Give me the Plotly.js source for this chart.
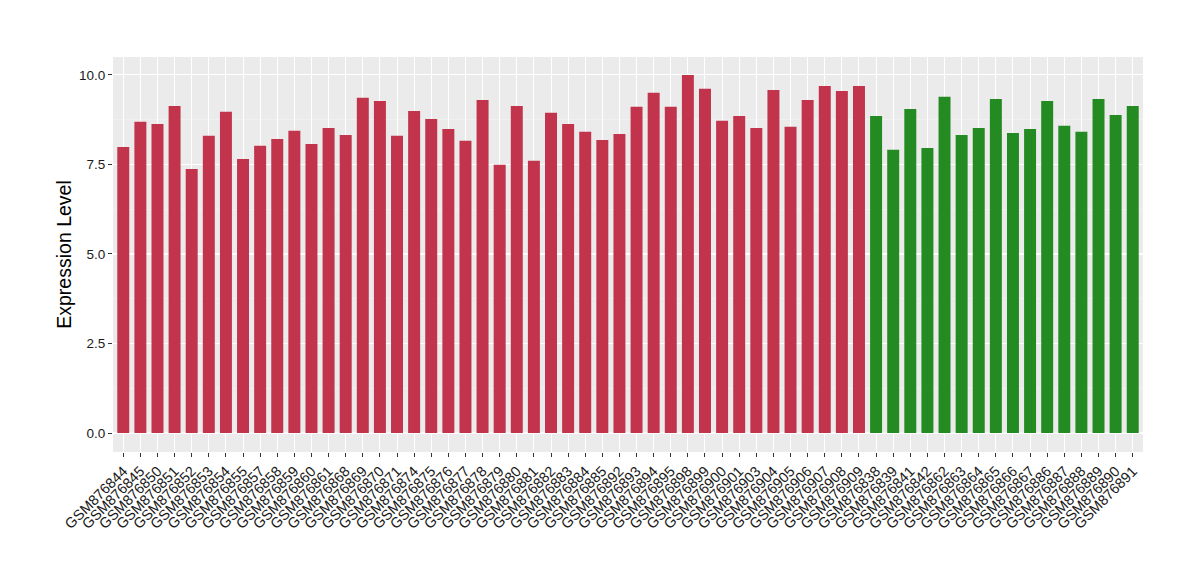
<!DOCTYPE html>
<html>
<head>
<meta charset="utf-8">
<script src="https://cdn.plot.ly/plotly-3.0.1.min.js"></script>
<style>html,body{margin:0;padding:0;background:#fff;}#chart{width:1200px;height:580px;}</style>
</head>
<body>
<div id="chart"></div>
<script>
const redSamples = ["GSM876844","GSM876845","GSM876850","GSM876851","GSM876852","GSM876853","GSM876854","GSM876855","GSM876857","GSM876858",
"GSM876859","GSM876860","GSM876861","GSM876868","GSM876869","GSM876870","GSM876871","GSM876874","GSM876875","GSM876876",
"GSM876877","GSM876878","GSM876879","GSM876880","GSM876881","GSM876882","GSM876883","GSM876884","GSM876885","GSM876892",
"GSM876893","GSM876894","GSM876895","GSM876898","GSM876899","GSM876900","GSM876901","GSM876903","GSM876904","GSM876905",
"GSM876906","GSM876907","GSM876908","GSM876909"];
const redValues = [7.99,8.69,8.63,9.13,7.37,8.30,8.97,7.65,8.02,8.21,
8.44,8.07,8.52,8.32,9.36,9.27,8.30,8.99,8.77,8.49,
8.16,9.30,7.49,9.13,7.60,8.94,8.63,8.41,8.18,8.35,
9.11,9.50,9.11,10.0,9.61,8.72,8.85,8.52,9.58,8.55,
9.30,9.69,9.55,9.69];
const greenSamples = ["GSM876838","GSM876839","GSM876841","GSM876842","GSM876862","GSM876863","GSM876864","GSM876865","GSM876866","GSM876867",
"GSM876886","GSM876887","GSM876888","GSM876889","GSM876890","GSM876891"];
const greenValues = [8.85,7.91,9.05,7.96,9.39,8.32,8.52,9.33,8.38,8.49,
9.27,8.58,8.41,9.33,8.88,9.13];
const yTicks = [0,2.5,5,7.5,10];
const yTickLabels = ["0.0","2.5","5.0","7.5","10.0"];

const allSamples = redSamples.concat(greenSamples);
const traces = [
  {type:'bar', x:redSamples, y:redValues, marker:{color:'#C1344B'}, width:0.7, hoverinfo:'x+y'},
  {type:'bar', x:greenSamples, y:greenValues, marker:{color:'#238B22'}, width:0.7, hoverinfo:'x+y'}
];
const layout = {
  width:1200, height:580,
  margin:{l:113, r:57, t:57, b:128},
  paper_bgcolor:'#ffffff', plot_bgcolor:'#EBEBEB',
  showlegend:false,
  barmode:'overlay',
  font:{family:'Liberation Sans, Arial, sans-serif', color:'#1a1a1a'},
  xaxis:{
    type:'category', categoryorder:'array', categoryarray:allSamples,
    range:[-0.6, allSamples.length-0.4],
    tickangle:-45, tickfont:{size:14.5, color:'#1a1a1a'},
    showgrid:true, gridcolor:'#ffffff', gridwidth:1,
    ticks:'outside', ticklen:4, tickcolor:'#333333', tickwidth:1,
    zeroline:false, showline:false, automargin:false
  },
  yaxis:{
    range:[-0.53,10.5],
    tickvals:yTicks, ticktext:yTickLabels,
    tickfont:{size:13.5, color:'#1a1a1a'},
    showgrid:true, gridcolor:'#ffffff', gridwidth:1.1,
    minor:{tickvals:[1.25,3.75,6.25,8.75], showgrid:true, gridcolor:'#F5F5F5', gridwidth:0.6, ticks:''},
    ticks:'outside', ticklen:4, tickcolor:'#333333', tickwidth:1,
    zeroline:false, showline:false, automargin:false,
    title:{text:'Expression Level', font:{size:19.5, color:'#000000'}, standoff:2}
  }
};
Plotly.newPlot('chart', traces, layout, {displayModeBar:false, staticPlot:true});
</script>
</body>
</html>
